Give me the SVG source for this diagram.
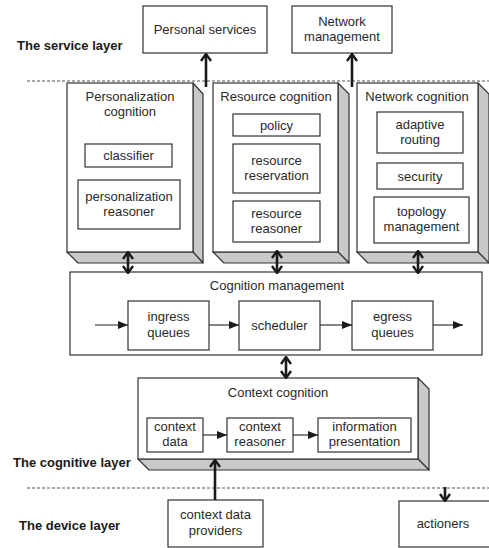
<svg xmlns="http://www.w3.org/2000/svg" width="489" height="548" viewBox="0 0 489 548">
<defs>
<style>
.t{font-family:"Liberation Sans",Arial,sans-serif;font-size:13px;fill:#2a2a2a;text-anchor:middle}
.b{font-family:"Liberation Sans",Arial,sans-serif;font-size:13px;font-weight:bold;fill:#1a1a1a}
.box{fill:#fff;stroke:#333;stroke-width:1.2}
.side{fill:#c9c9c9;stroke:#333;stroke-width:1.2;stroke-linejoin:round}
.dash{stroke:#555;stroke-width:1;stroke-dasharray:3,2;fill:none}
.thick{stroke:#1a1a1a;stroke-width:2.6;fill:none}
.thin{stroke:#222;stroke-width:1.1;fill:none}
</style>
<marker id="chev" viewBox="0 0 10 12" refX="9" refY="6" markerWidth="10" markerHeight="12" markerUnits="userSpaceOnUse" orient="auto-start-reverse">
<path d="M2,1 L9,6 L2,11" fill="none" stroke="#1a1a1a" stroke-width="2.4"/>
</marker>
<marker id="tri" viewBox="0 0 10 8" refX="10" refY="4" markerWidth="10" markerHeight="8" markerUnits="userSpaceOnUse" orient="auto">
<path d="M0,0 L10,4 L0,8 Z" fill="#1a1a1a"/>
</marker>
</defs>

<!-- layer labels and separators -->
<g id="layers">
<text class="b" x="17" y="50">The service layer</text>
<text class="b" x="13" y="467">The cognitive layer</text>
<text class="b" x="19" y="530">The device layer</text>
<line class="dash" x1="27" y1="81" x2="489" y2="81"/>
<line class="dash" x1="27" y1="488" x2="489" y2="488"/>
</g>

<g id="personal-services">
<rect class="box" x="143" y="6" width="124" height="47"/>
<text class="t" x="205" y="34">Personal services</text>
</g>
<g id="network-management">
<rect class="box" x="292" y="6" width="100" height="47"/>
<text class="t" x="342" y="26">Network</text>
<text class="t" x="342" y="41">management</text>
</g>

<g id="personalization-cognition">
<polygon class="side" points="193,83 203,94 203,263 193,252"/>
<polygon class="side" points="67,252 193,252 203,263 78,263"/>
<rect class="box" x="67" y="83" width="126" height="169"/>
<text class="t" x="130" y="101">Personalization</text>
<text class="t" x="130" y="116">cognition</text>
<rect class="box" x="85" y="144" width="87" height="23"/>
<text class="t" x="128.5" y="160">classifier</text>
<rect class="box" x="78" y="180" width="102" height="49"/>
<text class="t" x="129" y="201">personalization</text>
<text class="t" x="129" y="216">reasoner</text>
</g>

<g id="resource-cognition">
<polygon class="side" points="338,83 349,94 349,263 338,252"/>
<polygon class="side" points="213,252 338,252 349,263 224,263"/>
<rect class="box" x="213" y="83" width="125" height="169"/>
<text class="t" x="276" y="101">Resource cognition</text>
<rect class="box" x="233" y="114" width="87" height="22"/>
<text class="t" x="276.5" y="130">policy</text>
<rect class="box" x="233" y="144" width="87" height="49"/>
<text class="t" x="276.5" y="165">resource</text>
<text class="t" x="276.5" y="180">reservation</text>
<rect class="box" x="233" y="201" width="87" height="41"/>
<text class="t" x="276.5" y="218">resource</text>
<text class="t" x="276.5" y="233">reasoner</text>
</g>

<g id="network-cognition">
<polygon class="side" points="478,83 489,94 489,263 478,252"/>
<polygon class="side" points="357,252 478,252 489,263 368,263"/>
<rect class="box" x="357" y="83" width="121" height="169"/>
<text class="t" x="417" y="101">Network cognition</text>
<rect class="box" x="377" y="112" width="86" height="41"/>
<text class="t" x="420" y="129">adaptive</text>
<text class="t" x="420" y="144">routing</text>
<rect class="box" x="377" y="163" width="86" height="26"/>
<text class="t" x="420" y="181">security</text>
<rect class="box" x="374" y="197" width="95" height="46"/>
<text class="t" x="421.5" y="216">topology</text>
<text class="t" x="421.5" y="231">management</text>
</g>

<g id="cognition-management">
<rect class="box" x="70" y="272" width="412" height="83"/>
<text class="t" x="277" y="290">Cognition management</text>
<rect class="box" x="128" y="301" width="81" height="49"/>
<text class="t" x="168.5" y="321">ingress</text>
<text class="t" x="168.5" y="337">queues</text>
<rect class="box" x="239" y="301" width="81" height="49"/>
<text class="t" x="279.5" y="330">scheduler</text>
<rect class="box" x="352" y="301" width="81" height="49"/>
<text class="t" x="392.5" y="321">egress</text>
<text class="t" x="392.5" y="337">queues</text>
</g>

<g id="context-cognition">
<polygon class="side" points="418,378 429,389 429,470 418,459"/>
<polygon class="side" points="138,459 418,459 429,470 149,470"/>
<rect class="box" x="138" y="378" width="280" height="81"/>
<text class="t" x="278" y="397">Context cognition</text>
<rect class="box" x="147" y="418" width="56" height="34"/>
<text class="t" x="175" y="431">context</text>
<text class="t" x="175" y="446">data</text>
<rect class="box" x="227" y="418" width="66" height="34"/>
<text class="t" x="260" y="431">context</text>
<text class="t" x="260" y="446">reasoner</text>
<rect class="box" x="318" y="418" width="93" height="34"/>
<text class="t" x="364.5" y="431">information</text>
<text class="t" x="364.5" y="446">presentation</text>
</g>

<g id="context-data-providers">
<rect class="box" x="168" y="500" width="95" height="47"/>
<text class="t" x="215.5" y="519">context data</text>
<text class="t" x="215.5" y="535">providers</text>
</g>

<g id="actioners">
<rect class="box" x="399" y="501" width="96" height="46"/>
<text class="t" x="443" y="528">actioners</text>
</g>

<g id="connectors">
<line class="thick" x1="206" y1="87" x2="206" y2="54" marker-end="url(#chev)"/>
<line class="thick" x1="352" y1="87" x2="352" y2="54" marker-end="url(#chev)"/>
<line class="thick" x1="128" y1="252" x2="128" y2="273" marker-start="url(#chev)" marker-end="url(#chev)"/>
<line class="thick" x1="277" y1="251" x2="277" y2="273" marker-start="url(#chev)" marker-end="url(#chev)"/>
<line class="thick" x1="418" y1="251" x2="418" y2="273" marker-start="url(#chev)" marker-end="url(#chev)"/>
<line class="thick" x1="286" y1="357" x2="286" y2="378" marker-start="url(#chev)" marker-end="url(#chev)"/>
<line class="thick" x1="215" y1="500" x2="215" y2="460" marker-end="url(#chev)"/>
<line class="thick" x1="445" y1="487" x2="445" y2="501" marker-end="url(#chev)"/>
<line class="thin" x1="95" y1="325" x2="128" y2="325" marker-end="url(#tri)"/>
<line class="thin" x1="209" y1="325" x2="239" y2="325" marker-end="url(#tri)"/>
<line class="thin" x1="320" y1="325" x2="352" y2="325" marker-end="url(#tri)"/>
<line class="thin" x1="433" y1="325" x2="463" y2="325" marker-end="url(#tri)"/>
<line class="thin" x1="203" y1="435" x2="227" y2="435" marker-end="url(#tri)"/>
<line class="thin" x1="293" y1="435" x2="318" y2="435" marker-end="url(#tri)"/>
</g>
</svg>
